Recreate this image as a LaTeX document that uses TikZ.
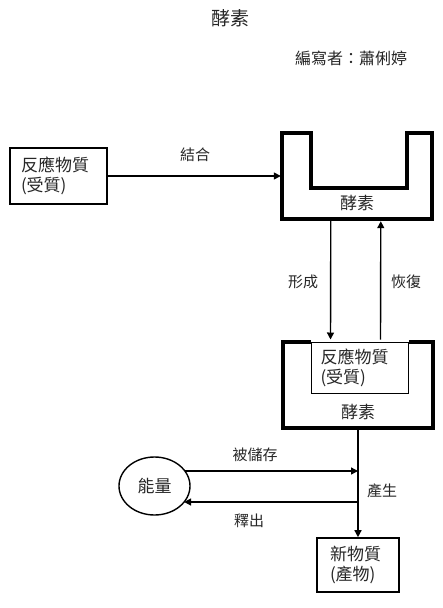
\documentclass[tikz,border=0pt]{standalone}
\usepackage{fontspec}
\setmainfont{Noto Sans CJK TC}
\usetikzlibrary{arrows.meta,calc,shapes.geometric}
\begin{document}
\begin{tikzpicture}[x=1pt,y=-1pt,
  lbl/.style={font=\fontsize{15}{18}\selectfont, inner sep=0pt, text=black!85},
  boxtxt/.style={font=\fontsize{17}{20}\selectfont, text=black!85, inner sep=0pt, align=left},
  plainbox/.style={draw, line width=1.6pt, boxtxt},
  innerbox/.style={draw, line width=1pt, boxtxt},
  enzline/.style={line width=4pt, line join=miter},
  arr/.style={line width=1.4pt, -{Triangle[length=7pt,width=7pt]}},
  ghost/.style={inner sep=0pt, minimum width=150pt, minimum height=86pt},
]
\useasboundingbox (0,0) rectangle (443,608);

% titles
\node[font=\fontsize{19}{22}\selectfont, text=black!85] (title) at (230,18) {酵素};
\node[font=\fontsize{16}{18}\selectfont, text=black!85] (author) at (351,58) {編寫者：蕭俐婷};

% substrate box
\node[plainbox, minimum width=97pt, minimum height=56pt, text width=75pt] (sub1) at (58.5,176) {反應物質\\(受質)};

% enzyme 1
\node[ghost] (enz1) at (357,176) {};
\draw[enzline] (282,133) -- (311,133) -- (311,188) -- (407,188) -- (407,133) -- (432,133) -- (432,219) -- (282,219) -- cycle;
\node[boxtxt] (enz1txt) at (357,203) {酵素};

% enzyme 2 with substrate
\node[ghost] (enz2) at (358,385) {};
\draw[enzline] (311,342) -- (283,342) -- (283,428) -- (433,428) -- (433,342) -- (409,342);
\node[innerbox, minimum width=97pt, minimum height=51pt, text width=78pt] (sub2) at (359.5,367.5) {反應物質\\(受質)};
\node[boxtxt] (enz2txt) at (358,412) {酵素};

% product box
\node[plainbox, minimum width=82pt, minimum height=54pt, text width=56pt] (prod) at (358,565) {新物質\\(產物)};

% energy ellipse
\node[draw, ellipse, line width=1.4pt, minimum width=71pt, minimum height=58pt, boxtxt] (energy) at (154.5,486) {能量};

% junctions on main line
\coordinate (j1) at (358,471);
\coordinate (j2) at (358,502);

% connectors
\draw[arr, shorten >=1pt] (sub1.east) -- (sub1.east -| enz1.west);
\draw[arr, shorten <=2pt, shorten >=2pt] ($(enz1.south west)+(49,0)$) -- ($(sub2.north west)+(20,0)$);
\draw[arr, shorten <=2pt, shorten >=2pt] ($(sub2.north west)+(70,0)$) -- ($(enz1.south west)+(99,0)$);
\draw[arr, shorten <=2pt] (enz2.south) -- (prod.north);
\draw[arr] ($(energy.center)+(30.4,-15)$) -- (j1);
\draw[arr] (j2) -- ($(energy.center)+(29.6,16)$);

% labels
\node[lbl] (l1) at (195,155) {結合};
\node[lbl] (l2) at (303,282) {形成};
\node[lbl] (l3) at (406,282) {恢復};
\node[lbl] (l4) at (255,455) {被儲存};
\node[lbl] (l5) at (249,521) {釋出};
\node[lbl] (l6) at (382,491) {產生};
\end{tikzpicture}
\end{document}
